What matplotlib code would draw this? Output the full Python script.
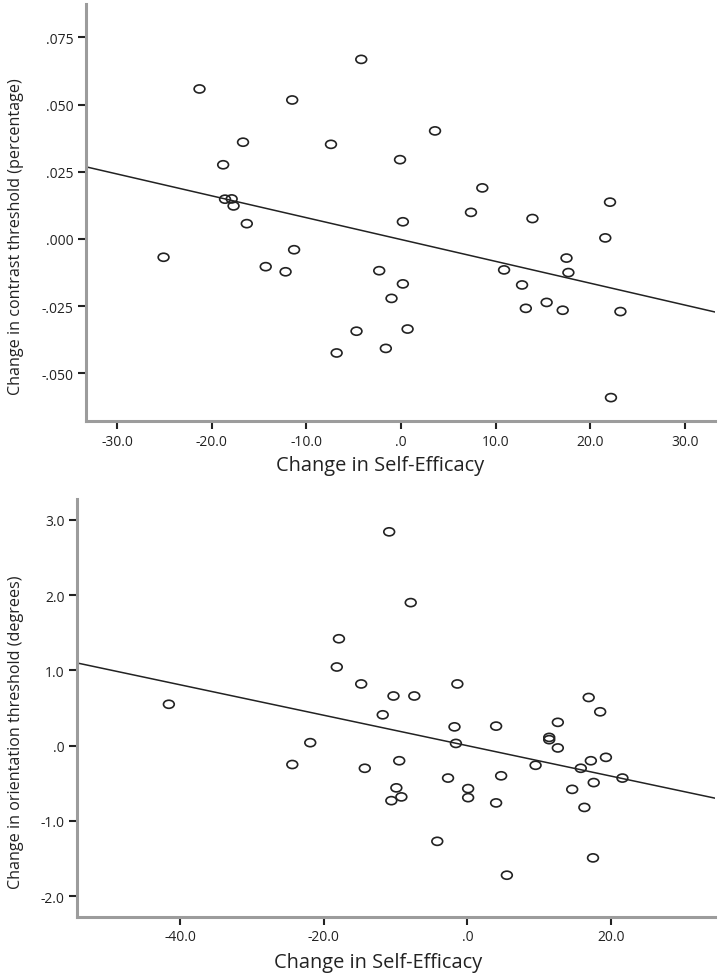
import numpy as np
import matplotlib
matplotlib.use("Agg")
import matplotlib.pyplot as plt
from matplotlib.path import Path
from matplotlib.transforms import Affine2D
from matplotlib.ticker import FuncFormatter

plt.rcParams['font.family'] = ['Open Sans', 'DejaVu Sans']

# ---- Data: top panel (contrast threshold) ----
se_contrast = [-21.3, -11.5, -16.7, -7.4, -18.8, -18.6, -17.9, -17.7, -16.3, -4.2,
               3.6, -0.1, 8.6, 7.4, 13.9, 22.1, 0.2, 21.6, -25.1, -14.3,
               -12.2, -11.3, -6.8, -4.7, -2.3, 0.2, -1.0, 0.7, -1.6, 10.9,
               12.8, 13.2, 15.4, 17.1, 17.5, 17.7, 23.2, 22.2]
contrast_change = [0.0558, 0.0517, 0.0360, 0.0352, 0.0276, 0.0148, 0.0149, 0.0123, 0.0057, 0.0668,
                   0.0402, 0.0295, 0.0190, 0.0099, 0.0076, 0.0137, 0.0064, 0.0004, -0.0068, -0.0103,
                   -0.0122, -0.0040, -0.0424, -0.0343, -0.0118, -0.0167, -0.0221, -0.0335, -0.0407, -0.0115,
                   -0.0171, -0.0258, -0.0236, -0.0265, -0.0071, -0.0125, -0.0270, -0.0590]

# ---- Data: bottom panel (orientation threshold) ----
se_orient = [-41.6, -17.9, -18.2, -14.8, -10.9, -7.9, -10.3, -7.4, -1.4, -11.8,
             -1.8, 4.0, 12.6, 16.9, 18.5, 11.4, 11.4, -21.9, -24.4, -14.3,
             -9.5, -9.9, -9.2, -10.6, -1.6, -2.7, 0.1, 0.1, 4.0, 4.7,
             -4.2, 5.5, 9.5, 12.6, 15.8, 17.2, 19.3, 14.6, 17.6, 21.6,
             16.3, 17.5]
orient_change = [0.55, 1.42, 1.045, 0.82, 2.84, 1.90, 0.66, 0.66, 0.82, 0.41,
                 0.25, 0.26, 0.31, 0.64, 0.45, 0.11, 0.08, 0.04, -0.25, -0.30,
                 -0.20, -0.56, -0.68, -0.73, 0.03, -0.43, -0.57, -0.69, -0.76, -0.40,
                 -1.27, -1.72, -0.26, -0.03, -0.30, -0.20, -0.155, -0.58, -0.49, -0.43,
                 -0.82, -1.49]

# fit lines (intercept, slope)
fit_contrast = (-0.0002, -0.000812)
fit_orient = (0.0, -0.0202)

# ticks
top_xticks = [-30, -20, -10, 0, 10, 20, 30]
top_yticks = [-0.050, -0.025, 0.0, 0.025, 0.050, 0.075]
bot_xticks = [-40, -20, 0, 20]
bot_yticks = [-2.0, -1.0, 0.0, 1.0, 2.0, 3.0]

def spss_fmt(decimals):
    def f(v, pos):
        s = f"{v:.{decimals}f}"
        if s.startswith("-0."):
            s = "-" + s[2:]
        elif s.startswith("0."):
            s = s[1:]
        if s in ("-.0", "-.000"):
            s = s[1:]
        return s
    return FuncFormatter(f)

ellipse = Path.unit_circle().transformed(Affine2D().scale(1.0, 0.75))

fig = plt.figure(figsize=(7.2, 9.78), dpi=100)

TXT = '#222222'

def style(ax):
    for s in ('top', 'right'):
        ax.spines[s].set_visible(False)
    for s in ('left', 'bottom'):
        ax.spines[s].set_color('#9c9c9c')
        ax.spines[s].set_linewidth(2.2)
    ax.tick_params(axis='both', direction='out', length=6, width=1.5, color=TXT,
                   labelsize=10, labelcolor=TXT, pad=3)

# top axes
ax1 = fig.add_axes([86/720, 1-422/978, (715-86)/720, (422-5)/978])
ax1.scatter(se_contrast, contrast_change, marker=ellipse, s=60, facecolors='none',
            edgecolors=TXT, linewidths=1.2, zorder=3)
xl1 = (-33.3, 33.2)
xx = np.array(xl1)
ax1.plot(xx, fit_contrast[0] + fit_contrast[1]*xx, color=TXT, lw=1.1)
ax1.set_xlim(*xl1)
ax1.set_ylim(-0.0677, 0.0874)
ax1.set_xticks(top_xticks)
ax1.set_yticks(top_yticks)
ax1.xaxis.set_major_formatter(spss_fmt(1))
ax1.yaxis.set_major_formatter(spss_fmt(3))
style(ax1)
ax1.set_xlabel("Change in Self-Efficacy", fontsize=14.4, color=TXT)
ax1.set_ylabel("Change in contrast threshold (percentage)", fontsize=11.6, color=TXT)
ax1.xaxis.set_label_coords((380-86)/629, (422-456)/417)
ax1.yaxis.set_label_coords((24-86)/629, (422-237)/417)

# bottom axes
ax2 = fig.add_axes([77/720, 1-918/978, (715-77)/720, (918-500)/978])
ax2.scatter(se_orient, orient_change, marker=ellipse, s=60, facecolors='none',
            edgecolors=TXT, linewidths=1.2, zorder=3)
xl2 = (-54.4, 34.5)
xx = np.array(xl2)
ax2.plot(xx, fit_orient[0] + fit_orient[1]*xx, color=TXT, lw=1.1)
ax2.set_xlim(*xl2)
ax2.set_ylim(-2.275, 3.276)
ax2.set_xticks(bot_xticks)
ax2.set_yticks(bot_yticks)
ax2.xaxis.set_major_formatter(spss_fmt(1))
ax2.yaxis.set_major_formatter(spss_fmt(1))
style(ax2)
ax2.set_xlabel("Change in Self-Efficacy", fontsize=14.4, color=TXT)
ax2.set_ylabel("Change in orientation threshold (degrees)", fontsize=11.6, color=TXT)
ax2.xaxis.set_label_coords((378-77)/638, (918-953)/418)
ax2.yaxis.set_label_coords((24-77)/638, (918-732)/418)

fig.savefig("out.png", dpi=100)
